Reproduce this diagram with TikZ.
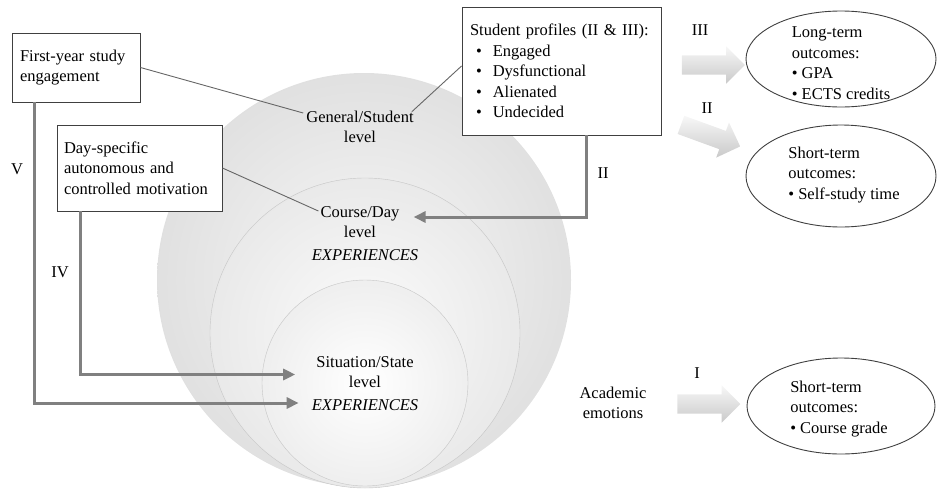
\documentclass[tikz,border=0pt]{standalone}
\usepackage{fontspec}
\setmainfont{Liberation Serif}
\usetikzlibrary{shapes.geometric,shapes.arrows,arrows.meta,positioning}

\tikzset{
  box/.style={draw=black!75, line width=0.9pt, fill=white, align=left, inner ysep=0pt, inner xsep=9pt},
  lvl/.style={align=center, inner sep=2pt},
  outc/.style={ellipse, draw=black!75, line width=0.9pt, fill=white, inner sep=0pt},
  elbow/.style={draw=gray, line width=3pt, -{Triangle[length=12pt,width=11pt]}},
  thinln/.style={draw=black!60, line width=0.9pt},
  blockarr/.style={single arrow, single arrow head extend=9pt, inner xsep=0pt, inner ysep=9.5pt,
    minimum height=63pt, top color=gray!6, bottom color=gray!42, draw=none},
  num/.style={inner sep=0pt}
}

\begin{document}
\begin{tikzpicture}[x=1pt, y=-1pt, font=\fontsize{16.5}{20.5}\selectfont]
    \useasboundingbox (0,0) rectangle (939,490);

    % 1. Three nested levels (shaded circles)
    \shade[inner color=gray!6, outer color=gray!24] (364,280) circle[radius=207pt];
    \shade[draw=gray!45, inner color=gray!3, outer color=gray!17] (365,333) circle[radius=155pt];
    \shade[draw=gray!45, inner color=white, outer color=gray!13] (365,383) circle[radius=103pt];

    % 2. Level labels
    \node[lvl] (general) at (360,127) {General/Student\\level};
    \node[lvl] (course) at (360,222) {Course/Day\\level};
    \node[lvl, font=\fontsize{16.5}{20.5}\selectfont\itshape] (expcourse) at (365,255) {EXPERIENCES};
    \node[lvl] (situation) at (365,372) {Situation/State\\level};
    \node[lvl, font=\fontsize{16.5}{20.5}\selectfont\itshape] (expsit) at (365,405) {EXPERIENCES};

    % 3. Boxes
    \node[box, text width=112pt, inner xsep=8pt, minimum height=69pt] (first) at (76,67.5)
        {First-year study\\engagement};
    \node[box, text width=151pt, inner xsep=7pt, minimum height=86pt] (day) at (139.5,168)
        {Day-specific\\autonomous and\\controlled motivation};
    \node[box, text width=183pt, inner xsep=8pt, minimum height=128pt] (profiles) at (561.5,71)
        {Student profiles (II \& III):\\
         \hspace*{6pt}\textbullet\hspace{11pt}Engaged\\
         \hspace*{6pt}\textbullet\hspace{11pt}Dysfunctional\\
         \hspace*{6pt}\textbullet\hspace{11pt}Alienated\\
         \hspace*{6pt}\textbullet\hspace{11pt}Undecided};

    % 4. Thin lines from boxes to levels
    \draw[thinln] (first.east) -- ([xshift=-1pt, yshift=14pt]general.west);
    \draw[thinln] ([yshift=5pt]profiles.west) -- ([xshift=-4pt, yshift=-3pt]general.north east);
    \draw[thinln] (day.east) -- ([yshift=-7pt]course.north west);

    % 5. Grey elbow arrows
    \draw[elbow] ([xshift=24.5pt]profiles.south) |- ([xshift=12pt, yshift=5pt]course.east);
    \draw[elbow] ([xshift=-59.5pt]day.south) |- ([xshift=-19pt, yshift=-2.5pt]situation.west);
    \draw[elbow] ([xshift=-42pt]first.south) |- ([xshift=-11pt, yshift=2pt]expsit.west);
    \node[num] at (603,173) {II};
    \node[num] at (60,272) {IV};
    \node[num] at (17,169) {V};

    % 6. Outcomes
    \node[outc, minimum width=190pt, minimum height=96pt] (longterm) at (841,59) {};
    \node[align=left] at (841,63) {Long-term\\outcomes:\\\textbullet\ GPA\\\textbullet\ ECTS credits};
    \node[outc, minimum width=190pt, minimum height=102pt] (selfstudy) at (841,176) {};
    \node[align=left] at (844,175) {Short-term\\outcomes:\\\textbullet\ Self-study time};
    \node[outc, minimum width=188pt, minimum height=96pt] (grade) at (841,406) {};
    \node[align=left] at (839,409) {Short-term\\outcomes:\\\textbullet\ Course grade};

    % 7. Block arrows and their labels
    \node[blockarr] (arrIII) at (708.5,65) {};
    \node[blockarr, rotate=-20] (arrII) at (706,134) {};
    \node[blockarr] (arrI) at (704,404) {};
    \node[num] at (700,30) {III};
    \node[num] at (707,108) {II};
    \node[num] at (697,373) {I};
    \node[align=center] (emotions) at (613,403) {Academic\\emotions};

\end{tikzpicture}
\end{document}
